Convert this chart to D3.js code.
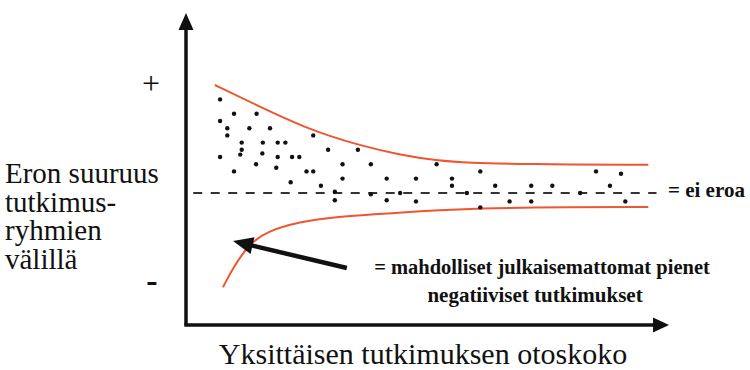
<!DOCTYPE html>
<html>
<head>
<meta charset="utf-8">
<script src="https://cdn.jsdelivr.net/npm/d3@7"></script>
<style>
  body { margin: 0; background: #fff; }
</style>
</head>
<body>
<svg width="750" height="370"></svg>
<script>
var svg = d3.select("svg"),
    width = +svg.attr("width"),
    height = +svg.attr("height");

var serif = "'Liberation Serif', 'Times New Roman', Times, 'DejaVu Serif', serif";
svg.attr("font-family", serif);

// studies: sample size (x) and effect size (y)
var sampleSize = [7.1,10.0,14.7,7.1,8.6,13.2,17.5,8.6,11.6,16.0,
                  19.1,20.7,11.6,11.3,15.9,7.1,19.1,22.1,23.6,14.6,
                  18.8,10.0,25.1,21.8,26.5,29.6,35.8,32.6,38.5,26.5,
                  32.6,41.8,28.1,31.0,38.5,31.0,41.8,44.6,52.2,61.3,
                  47.9,55.4,55.4,64.4,58.5,47.9,67.4,61.3,85.4,90.6,
                  71.9,76.3,88.3,71.9,82.1,91.5];
var effect = [0.78,0.66,0.66,0.60,0.54,0.54,0.54,0.48,0.42,0.42,
              0.42,0.42,0.36,0.32,0.33,0.30,0.30,0.30,0.30,0.24,
              0.21,0.18,0.18,0.09,0.48,0.36,0.36,0.24,0.24,0.18,
              0.12,0.12,0.06,0.01,-0.01,-0.06,-0.06,0.0,0.24,0.18,
              0.12,0.12,0.06,0.06,0.0,-0.07,-0.07,-0.12,0.18,0.16,
              0.06,0.06,0.06,-0.07,0.0,-0.07];

// funnel limits
var upperN = [6.0,14.8,25.8,35.8,44.6,52.2,59.0,70.0,96.3];
var upperE = [0.90,0.73,0.525,0.40,0.317,0.27,0.25,0.24,0.235];
var lowerN = [7.7,9.9,13.3,16.8,23.75,30.7,44.6,61.3,80.0,96.3];
var lowerE = [-0.786,-0.614,-0.42,-0.32,-0.24,-0.20,-0.162,-0.125,-0.118,-0.117];

var noEffectRange = [1.5, 98];

var x = d3.scaleLinear().domain([0, 100.6]).range([186, 669]);
var y = d3.scaleLinear().domain([-1.1, 1.5]).range([325, 13]);

var red = "#ef5630";

// axes with arrowheads
svg.append("line")
    .attr("x1", x(0)).attr("y1", y(-1.1))
    .attr("x2", x(0)).attr("y2", y(1.5) + 14)
    .attr("stroke", "#111").attr("stroke-width", 3.5);
svg.append("path")
    .attr("d", "M" + x(0) + "," + y(1.5) + "l-7.5,17l15,0z")
    .attr("fill", "#111");
svg.append("line")
    .attr("x1", x(0) - 1.75).attr("y1", y(-1.1))
    .attr("x2", x(100.6) - 14).attr("y2", y(-1.1))
    .attr("stroke", "#111").attr("stroke-width", 3.5);
svg.append("path")
    .attr("d", "M" + x(100.6) + "," + y(-1.1) + "l-16,-7.5l0,15z")
    .attr("fill", "#111");

// no-difference line
svg.append("line")
    .attr("x1", x(noEffectRange[0])).attr("x2", x(noEffectRange[1]))
    .attr("y1", y(0)).attr("y2", y(0))
    .attr("stroke", "#333").attr("stroke-width", 2.2)
    .attr("stroke-dasharray", "9,8.5");

// funnel curves
var line = d3.line()
    .x(function(d) { return x(d[0]); })
    .y(function(d) { return y(d[1]); })
    .curve(d3.curveBasis);

svg.append("path")
    .datum(d3.zip(upperN, upperE))
    .attr("d", line)
    .attr("fill", "none").attr("stroke", red).attr("stroke-width", 2);
svg.append("path")
    .datum(d3.zip(lowerN, lowerE))
    .attr("d", line)
    .attr("fill", "none").attr("stroke", red).attr("stroke-width", 2);

// studies
svg.append("g")
  .selectAll("circle")
  .data(d3.zip(sampleSize, effect))
  .enter().append("circle")
    .attr("cx", function(d) { return x(d[0]); })
    .attr("cy", function(d) { return y(d[1]); })
    .attr("r", 2.2)
    .attr("fill", "#111");

// annotation arrow
var tail = [x(33.5), y(-0.625)], head = [x(9.8), y(-0.4)];
var ang = Math.atan2(head[1] - tail[1], head[0] - tail[0]);
var hl = 20, hw = 8.5;
var base = [head[0] - hl * Math.cos(ang), head[1] - hl * Math.sin(ang)];
svg.append("line")
    .attr("x1", tail[0]).attr("y1", tail[1])
    .attr("x2", base[0] + 3 * Math.cos(ang)).attr("y2", base[1] + 3 * Math.sin(ang))
    .attr("stroke", "#111").attr("stroke-width", 4.5);
svg.append("path")
    .attr("d", "M" + head[0] + "," + head[1] +
               "L" + (base[0] - hw * Math.sin(ang)) + "," + (base[1] + hw * Math.cos(ang)) +
               "L" + (base[0] + hw * Math.sin(ang)) + "," + (base[1] - hw * Math.cos(ang)) + "Z")
    .attr("fill", "#111");

// texts
svg.append("text")
    .attr("x", 151).attr("y", 94)
    .attr("text-anchor", "middle")
    .attr("font-size", "32px").attr("fill", "#111")
    .text("+");
svg.append("text")
    .attr("x", 152).attr("y", 292)
    .attr("text-anchor", "middle")
    .attr("font-size", "34px").attr("font-weight", "bold").attr("fill", "#111")
    .text("-");

var yLabel = ["Eron suuruus", "tutkimus-", "ryhmien", "välillä"];
svg.append("g")
  .selectAll("text")
  .data(yLabel)
  .enter().append("text")
    .attr("x", 5)
    .attr("y", function(d, i) { return 183 + i * 28.5; })
    .attr("font-size", "29px").attr("fill", "#111")
    .text(function(d) { return d; });

svg.append("text")
    .attr("x", 423).attr("y", 364)
    .attr("text-anchor", "middle")
    .attr("font-size", "30px").attr("fill", "#111")
    .text("Yksittäisen tutkimuksen otoskoko");

svg.append("text")
    .attr("x", 668).attr("y", 197)
    .attr("font-size", "21px").attr("font-weight", "bold").attr("fill", "#111")
    .text("= ei eroa");

svg.append("text")
    .attr("x", 542).attr("y", 274)
    .attr("text-anchor", "middle")
    .attr("font-size", "20.5px").attr("font-weight", "bold").attr("fill", "#111")
    .text("= mahdolliset julkaisemattomat pienet");
svg.append("text")
    .attr("x", 535).attr("y", 302)
    .attr("text-anchor", "middle")
    .attr("font-size", "21px").attr("font-weight", "bold").attr("fill", "#111")
    .text("negatiiviset tutkimukset");
</script>
</body>
</html>
